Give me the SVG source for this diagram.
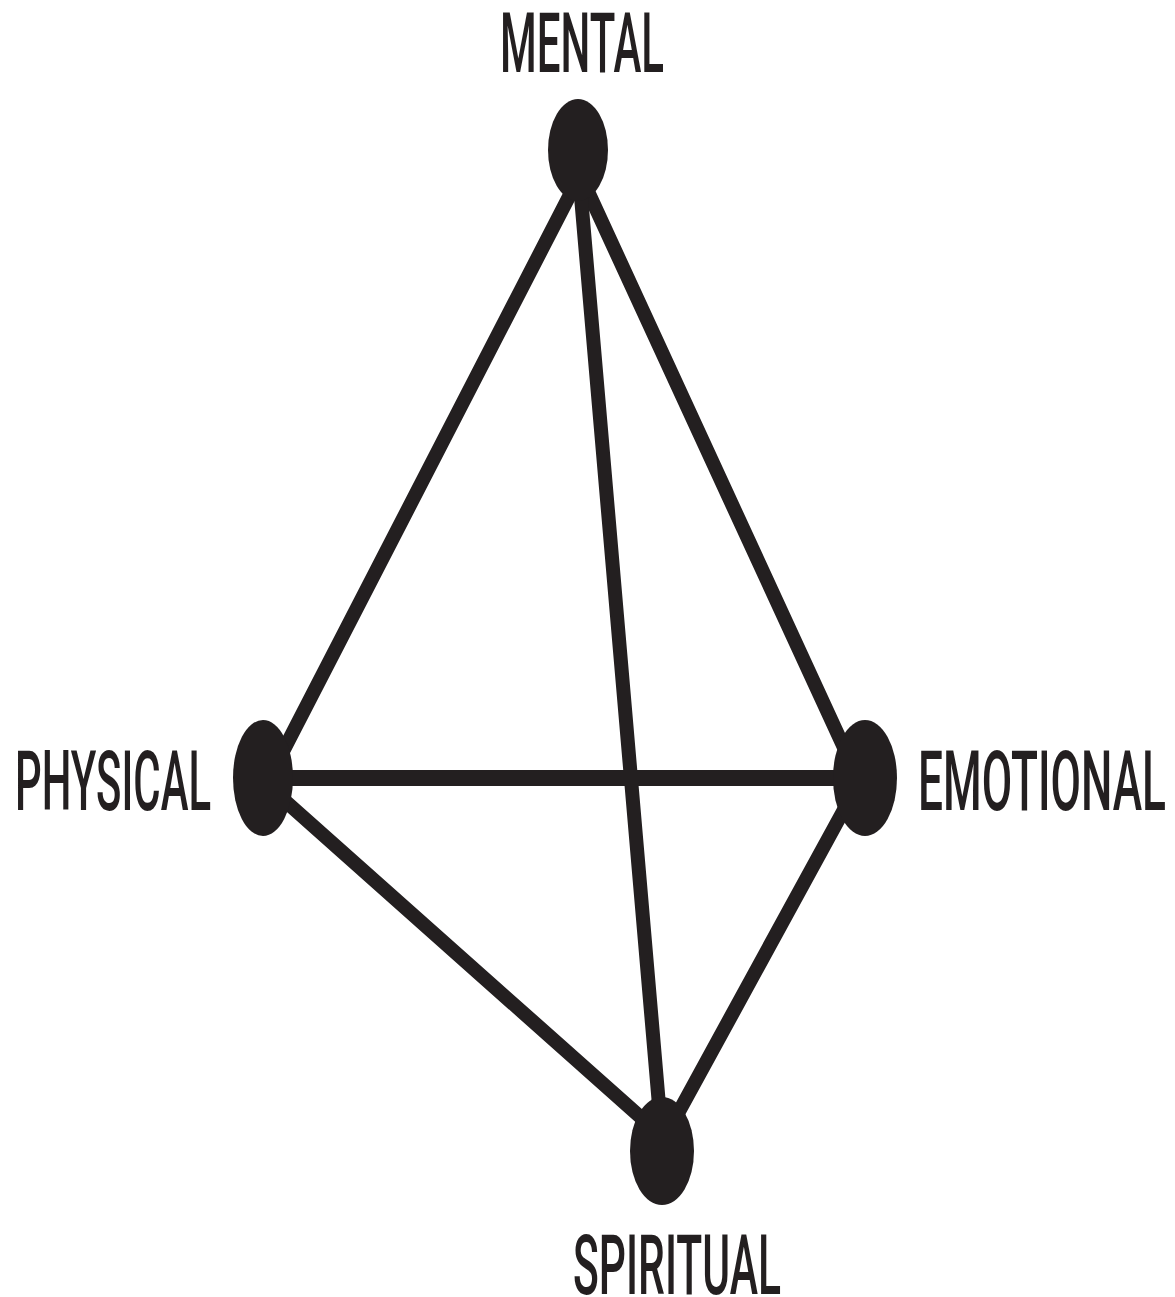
<svg xmlns="http://www.w3.org/2000/svg" width="1175" height="1297" viewBox="0 0 1175 1297">
<style>
.lbl{font-family:Roboto,"Liberation Sans",Arial,sans-serif;font-size:84px;font-weight:500;fill:#231f20}
.edge{stroke:#231f20;stroke-width:14;stroke-linecap:round;fill:none}
.node{fill:#231f20}
</style>
<rect width="1175" height="1297" fill="#ffffff"/>
<g id="connectors">
<line class="edge" x1="575" y1="185" x2="276" y2="765"/>
<line class="edge" x1="585" y1="185" x2="852" y2="765"/>
<line class="edge" x1="580" y1="185" x2="662" y2="1140"/>
<line class="edge" x1="263" y1="778" x2="865" y2="778" style="stroke-width:16"/>
<line class="edge" x1="275" y1="792" x2="655" y2="1130"/>
<line class="edge" x1="852" y1="795" x2="670" y2="1128"/>
</g>
<g id="mental">
<ellipse class="node" cx="578" cy="150" rx="30" ry="51"/>
<text class="lbl" x="500" y="72" textLength="164" lengthAdjust="spacingAndGlyphs">MENTAL</text>
</g>
<g id="physical">
<ellipse class="node" cx="263" cy="778" rx="30" ry="58"/>
<text class="lbl" x="15" y="810" textLength="196" lengthAdjust="spacingAndGlyphs">PHYSICAL</text>
</g>
<g id="emotional">
<ellipse class="node" cx="865" cy="778" rx="32" ry="58"/>
<text class="lbl" x="918" y="810" textLength="248" lengthAdjust="spacingAndGlyphs">EMOTIONAL</text>
</g>
<g id="spiritual">
<ellipse class="node" cx="662" cy="1151" rx="32" ry="54"/>
<text class="lbl" x="573" y="1294" textLength="208" lengthAdjust="spacingAndGlyphs">SPIRITUAL</text>
</g>
</svg>
